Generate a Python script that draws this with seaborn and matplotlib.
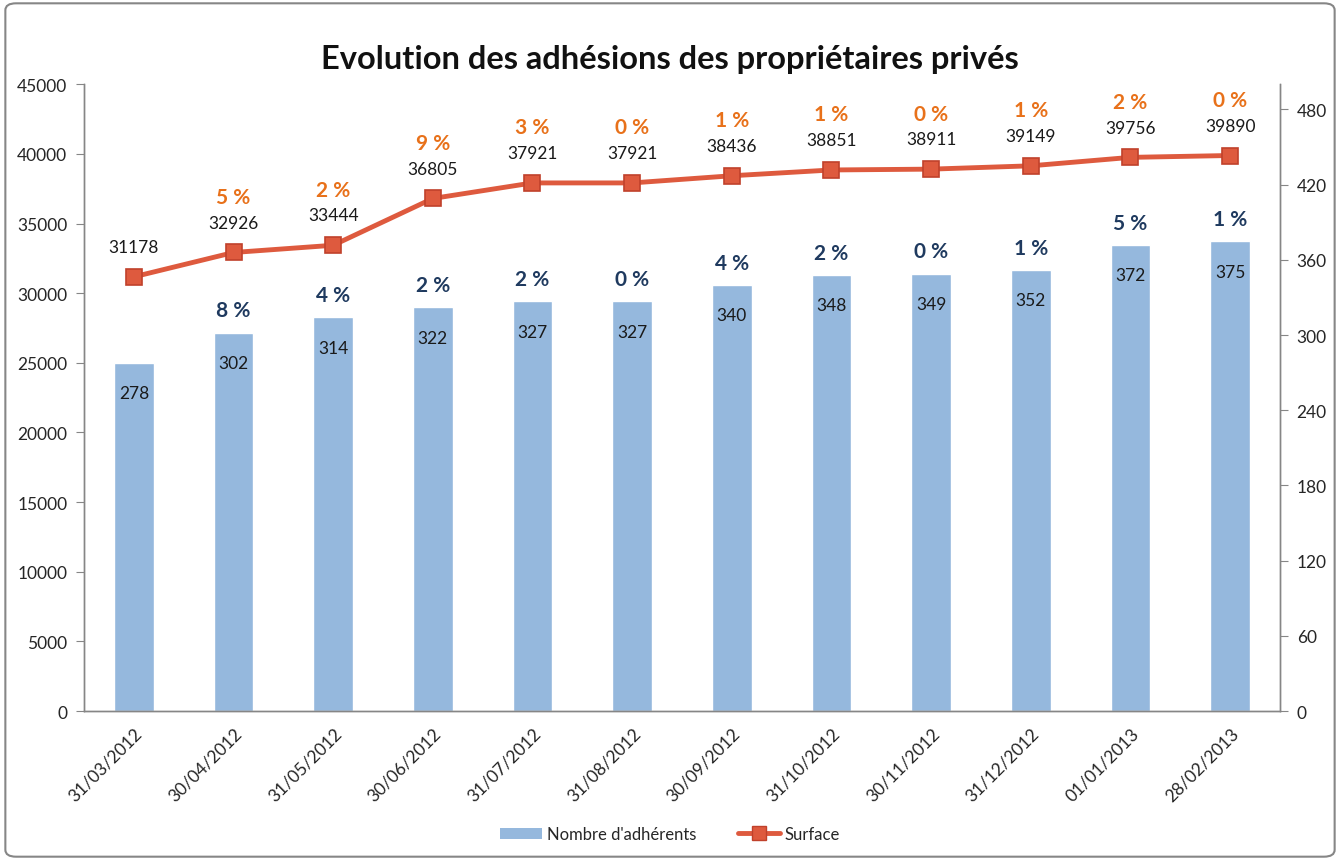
import numpy as np
import pandas as pd
import matplotlib
matplotlib.use("Agg")
import matplotlib.pyplot as plt
import seaborn as sns
from matplotlib.lines import Line2D
from matplotlib.patches import Patch, FancyBboxPatch

# Data
dates = ["31/03/2012", "30/04/2012", "31/05/2012", "30/06/2012", "31/07/2012", "31/08/2012",
         "30/09/2012", "31/10/2012", "30/11/2012", "31/12/2012", "01/01/2013", "28/02/2013"]
adherents = [278, 302, 314, 322, 327, 327, 340, 348, 349, 352, 372, 375]
surface = [31178, 32926, 33444, 36805, 37921, 37921, 38436, 38851, 38911, 39149, 39756, 39890]
adh_pct = ["", "8 %", "4 %", "2 %", "2 %", "0 %", "4 %", "2 %", "0 %", "1 %", "5 %", "1 %"]
surf_pct = ["", "5 %", "2 %", "9 %", "3 %", "0 %", "1 %", "1 %", "0 %", "1 %", "2 %", "0 %"]

df = pd.DataFrame({"date": dates, "adherents": adherents, "surface": surface})

bar_color = "#95B8DD"
line_color = "#DE5A3E"
blue_txt = "#1F3A5F"
orange_txt = "#E8711A"

sns.set_style("white")
plt.rcParams["font.family"] = ["Lato", "DejaVu Sans"]

fig = plt.figure(figsize=(13.4, 8.62), dpi=100)
ax = fig.add_axes([0.0627, 0.174, 0.8925, 0.727])
ax2 = ax.twinx()

# Bars on right axis
sns.barplot(data=df, x="date", y="adherents", color=bar_color, width=0.4,
            saturation=1, ax=ax2, zorder=1)
# Line on left axis
sns.lineplot(data=df, x="date", y="surface", color=line_color, linewidth=3.5,
             marker="s", markersize=11, markerfacecolor=line_color,
             markeredgecolor="#C0412B", markeredgewidth=1.2, ax=ax, sort=False)

ax.set_zorder(ax2.get_zorder() + 1)
ax.patch.set_visible(False)

ax.set_ylim(0, 45000)
ax.set_yticks(np.arange(0, 45001, 5000))
ax2.set_ylim(0, 500)
ax2.set_yticks(np.arange(0, 481, 60))
ax.set_xlim(-0.5, len(dates) - 0.5)
ax2.set_xlim(-0.5, len(dates) - 0.5)

ax.set_xlabel("")
ax.set_ylabel("")
ax2.set_xlabel("")
ax2.set_ylabel("")

# x ticks: labels at centers, marks at boundaries
ax.set_xticks(range(len(dates)))
ax.set_xticklabels(dates, rotation=45, ha="right", rotation_mode="anchor", fontsize=12.5)
ax.set_xticks(np.arange(-0.5, len(dates)), minor=True)
ax.tick_params(axis="x", which="major", length=0, pad=10)
ax.tick_params(axis="x", which="minor", length=6, color="#868686", width=1)
ax2.tick_params(axis="x", which="both", length=0, labelbottom=False)
ax.tick_params(axis="y", length=6, color="#868686", labelsize=12.5, pad=6)
ax2.tick_params(axis="y", length=6, color="#868686", labelsize=12.5, pad=6)

for a in (ax, ax2):
    a.spines["top"].set_visible(False)
    for s in ["left", "right", "bottom"]:
        a.spines[s].set_color("#868686")
        a.spines[s].set_linewidth(1)

# Data labels
for i, (v, p) in enumerate(zip(adherents, adh_pct)):
    ax2.annotate(str(v), (i, v), xytext=(0, -22), textcoords="offset points",
                 ha="center", va="center", fontsize=12.5, color="#1a1a1a")
    if p:
        ax2.annotate(p, (i, v), xytext=(0, 16), textcoords="offset points",
                     ha="center", va="center", fontsize=15, fontweight="bold", color=blue_txt)
for i, (v, p) in enumerate(zip(surface, surf_pct)):
    ax.annotate(str(v), (i, v), xytext=(0, 21.5), textcoords="offset points",
                ha="center", va="center", fontsize=12.5, color="#1a1a1a")
    if p:
        ax.annotate(p, (i, v), xytext=(0, 40), textcoords="offset points",
                    ha="center", va="center", fontsize=15, fontweight="bold", color=orange_txt)

fig.suptitle("Evolution des adhésions des propriétaires privés", x=0.5, y=0.948,
             fontsize=23.5, fontweight="bold", color="#111111")

handles = [Patch(facecolor=bar_color, edgecolor="none"),
           Line2D([0], [0], color=line_color, linewidth=3.5, marker="s", markersize=10,
                  markerfacecolor=line_color, markeredgecolor="#C0412B")]
fig.legend(handles, ["Nombre d'adhérents", "Surface"], loc="center", ncol=2,
           bbox_to_anchor=(0.5, 0.031), frameon=False, fontsize=12,
           handlelength=2.5, columnspacing=2.5, handletextpad=0.3)

border = FancyBboxPatch((0.004, 0.005), 0.992, 0.99, boxstyle="round,pad=0,rounding_size=0.008",
                        transform=fig.transFigure, fill=False, edgecolor="#868686",
                        linewidth=1.5)
fig.patches.append(border)

fig.savefig("out.png", dpi=100)
